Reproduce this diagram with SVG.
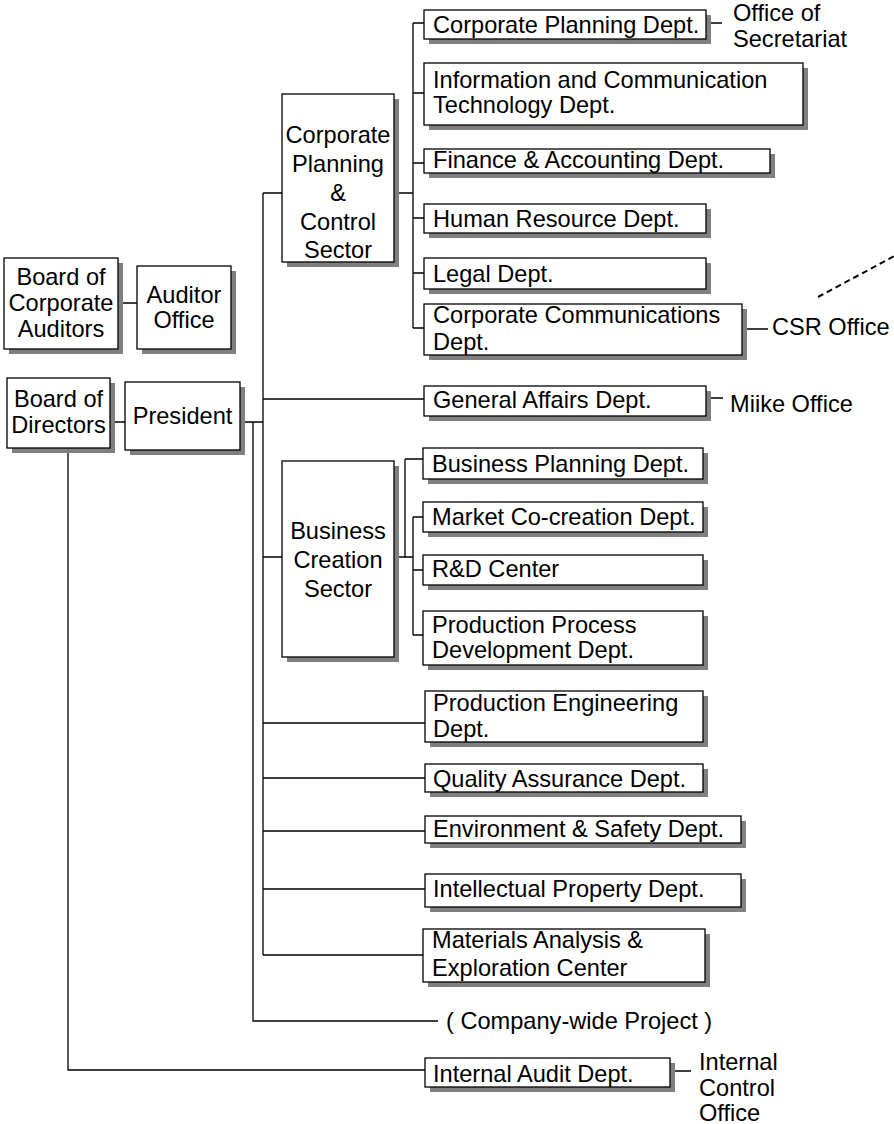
<svg xmlns="http://www.w3.org/2000/svg" width="894" height="1124" viewBox="0 0 894 1124">
<style>
.b{fill:#fff;stroke:#000;stroke-width:1.3}
.s{fill:#808080}
text{font-family:"Liberation Sans",Arial,sans-serif;font-size:23.6px;fill:#000}
.c{text-anchor:middle}
.ln{fill:none;stroke:#000;stroke-width:1.3}
.d{fill:none;stroke:#000;stroke-width:2;stroke-dasharray:6 4}
</style>
<rect width="894" height="1124" fill="#fff"/>
<g id="connectors">
<path class="ln" d="M118,303H137 M110,422H125 M240,422H263 M263,193V955 M253,422V1021H438 M68,448V1070H425 M263,193H282 M394,193H413 M413,23V328 M413,23H424 M413,93H424 M413,163H424 M413,218H424 M413,273H424 M413,328H424 M706,23H722 M742,329H768 M263,399H424 M706,398H723 M263,557H282 M394,557H413 M405,459V557 M405,459H423 M413,517V635 M413,517H423 M413,570H423 M413,635H423 M263,723H425 M263,778H425 M263,831H425 M263,889H425 M263,955H423 M670,1071H691"/>
<path class="d" d="M818,297L900,253"/>
</g>
<g id="bca"><rect class="s" x="9" y="263" width="114" height="91"/><rect class="b" x="4" y="258" width="114" height="91"/><text class="c" x="61" y="285">Board of</text><text class="c" x="61" y="311">Corporate</text><text class="c" x="61" y="337">Auditors</text></g>
<g id="ao"><rect class="s" x="142" y="271" width="94" height="83"/><rect class="b" x="137" y="266" width="94" height="83"/><text class="c" x="184" y="303">Auditor</text><text class="c" x="184" y="328">Office</text></g>
<g id="bod"><rect class="s" x="12" y="383" width="103" height="70"/><rect class="b" x="7" y="378" width="103" height="70"/><text class="c" x="58.5" y="407">Board of</text><text class="c" x="58.5" y="433">Directors</text></g>
<g id="pres"><rect class="s" x="130" y="387" width="115" height="68"/><rect class="b" x="125" y="382" width="115" height="68"/><text class="c" x="182.5" y="424">President</text></g>
<g id="cpcs"><rect class="s" x="287" y="99" width="112" height="168"/><rect class="b" x="282" y="94" width="112" height="168"/><text class="c" x="338" y="143">Corporate</text><text class="c" x="338" y="172">Planning</text><text class="c" x="338" y="201">&amp;</text><text class="c" x="338" y="230">Control</text><text class="c" x="338" y="258">Sector</text></g>
<g id="cpd"><rect class="s" x="429" y="15" width="282" height="29"/><rect class="b" x="424" y="10" width="282" height="29"/><text x="433" y="33">Corporate Planning Dept.</text></g>
<g id="os"><text x="733" y="21">Office of</text><text x="733" y="47">Secretariat</text></g>
<g id="ict"><rect class="s" x="429" y="68" width="379" height="62"/><rect class="b" x="424" y="63" width="379" height="62"/><text x="433" y="88">Information and Communication</text><text x="433" y="113">Technology Dept.</text></g>
<g id="fin"><rect class="s" x="429" y="154" width="346" height="24"/><rect class="b" x="424" y="149" width="346" height="24"/><text x="433" y="168">Finance &amp; Accounting Dept.</text></g>
<g id="hr"><rect class="s" x="429" y="209" width="282" height="29"/><rect class="b" x="424" y="204" width="282" height="29"/><text x="433" y="227">Human Resource Dept.</text></g>
<g id="legal"><rect class="s" x="429" y="263" width="282" height="31"/><rect class="b" x="424" y="258" width="282" height="31"/><text x="433" y="282">Legal Dept.</text></g>
<g id="cc"><rect class="s" x="429" y="309" width="318" height="51"/><rect class="b" x="424" y="304" width="318" height="51"/><text x="433" y="323">Corporate Communications</text><text x="433" y="350">Dept.</text></g>
<g id="csr"><text x="772" y="335">CSR Office</text></g>
<g id="ga"><rect class="s" x="429" y="391" width="282" height="30"/><rect class="b" x="424" y="386" width="282" height="30"/><text x="433" y="408">General Affairs Dept.</text></g>
<g id="miike"><text x="730" y="412">Miike Office</text></g>
<g id="bcs"><rect class="s" x="287" y="466" width="112" height="196"/><rect class="b" x="282" y="461" width="112" height="196"/><text class="c" x="338" y="539">Business</text><text class="c" x="338" y="568">Creation</text><text class="c" x="338" y="597">Sector</text></g>
<g id="bp"><rect class="s" x="428" y="453" width="280" height="31"/><rect class="b" x="423" y="448" width="280" height="31"/><text x="432" y="472">Business Planning Dept.</text></g>
<g id="mc"><rect class="s" x="428" y="507" width="280" height="30"/><rect class="b" x="423" y="502" width="280" height="30"/><text x="432" y="525">Market Co-creation Dept.</text></g>
<g id="rd"><rect class="s" x="428" y="560" width="280" height="30"/><rect class="b" x="423" y="555" width="280" height="30"/><text x="432" y="577">R&amp;D Center</text></g>
<g id="ppd"><rect class="s" x="428" y="616" width="280" height="54"/><rect class="b" x="423" y="611" width="280" height="54"/><text x="432" y="633">Production Process</text><text x="432" y="658">Development Dept.</text></g>
<g id="pe"><rect class="s" x="430" y="696" width="278" height="51"/><rect class="b" x="425" y="691" width="278" height="51"/><text x="433" y="711">Production Engineering</text><text x="433" y="737">Dept.</text></g>
<g id="qa"><rect class="s" x="430" y="769" width="278" height="28"/><rect class="b" x="425" y="764" width="278" height="28"/><text x="433" y="787">Quality Assurance Dept.</text></g>
<g id="es"><rect class="s" x="430" y="821" width="316" height="27"/><rect class="b" x="425" y="816" width="316" height="27"/><text x="433" y="837">Environment &amp; Safety Dept.</text></g>
<g id="ip"><rect class="s" x="430" y="879" width="316" height="33"/><rect class="b" x="425" y="874" width="316" height="33"/><text x="433" y="897">Intellectual Property Dept.</text></g>
<g id="ma"><rect class="s" x="428" y="934" width="282" height="53"/><rect class="b" x="423" y="929" width="282" height="53"/><text x="432" y="948">Materials Analysis &amp;</text><text x="432" y="976">Exploration Center</text></g>
<g id="cwp"><text x="446" y="1029">( Company-wide Project )</text></g>
<g id="ia"><rect class="s" x="430" y="1063" width="245" height="29"/><rect class="b" x="425" y="1058" width="245" height="29"/><text x="433" y="1082">Internal Audit Dept.</text></g>
<g id="ico"><text x="699" y="1070">Internal</text><text x="699" y="1096">Control</text><text x="699" y="1121">Office</text></g>
</svg>
